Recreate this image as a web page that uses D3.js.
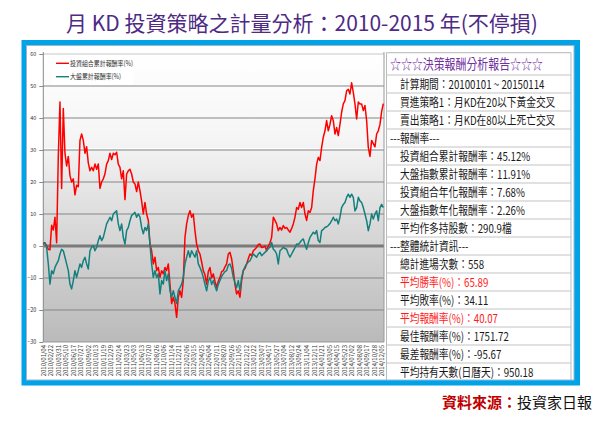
<!DOCTYPE html>
<html><head><meta charset="utf-8">
<script src="https://cdn.jsdelivr.net/npm/d3@7"></script>
<style>
body{margin:0;background:#fff}
svg{display:block}
text{font-family:"Noto Sans CJK TC","Noto Sans",sans-serif}
</style>
</head><body><svg id="c" width="600" height="430"></svg>
<script>
// ---------- data ----------
const chartTitle = "月 KD 投資策略之計量分析：2010-2015 年(不停損)";
const seriesNames = ["投資組合累計報酬率(%)", "大盤累計報酬率(%)"];
const portfolioReturn = [
 0.5,1,0,-1,-1.2,6.5,5,9,1,28,45,18,43,29,25,28,22,20,21,16,19,18.5,33,35,33,29,31,26,23.5,24.6,
 23.5,25.6,24,25.6,18,20,21,22.5,25.6,26.7,29,27,29,28.5,29.3,25.6,24.6,21,23.5,14.5,22.5,23.5,24,22.5,20,19.4,17,20,17.3,14,
 10,13.6,10,8,0.6,-1.5,-5.6,-3.5,-7.7,-6.7,-9.8,-7.7,-8.7,-6.7,-7.7,-5.6,-11.9,-18,-16,-18,-22.3,-16,-14,-16,-10.8,2.7,6.9,9.5,11,9,
 10,4.8,0.6,-1.5,-2.5,-5,-7.7,-9,-12,-8,-6.7,-10,-8.7,-11,-13,-11,-9.8,-8,-7.7,-6.5,-5.6,-2.5,-2,-4,-7.7,-12,-15,-14,-16,-10.8,
 -7.7,-7,-5.6,-4,-2.5,-3,-1.5,-1,-0.4,0.5,0.6,-0.5,-0.4,0,-1.5,0,1,2.7,9,8,6.9,4.8,5.8,5,6.4,5.5,5.8,5,4.3,5.5,
 6.9,9,12,11.5,13.6,12,13.6,10,8,11,10.5,12,17.3,21,25.6,27.7,26.7,30.8,34,36,39.2,36,38,40.7,39.2,35,37,34.5,38,41.8,
 44.4,45.4,48.5,49,47.5,51,48,44.4,39.7,45,44.4,44.4,42.3,43.9,39.2,30.8,28,33,32,31,35,36,38,42,44.5
];
const marketReturn = [
 1,1,-0.4,-5.6,-11.9,-7.7,-8.7,-6.7,-5.6,-4.6,-2.5,-1,-1.5,-3.5,-5.6,-7.7,-11.9,-13.4,-10.8,-7.7,-9.8,-7.7,-5.6,-6.7,-4.6,-3.5,-5.6,-7.2,-1.5,-0.4,
 0.1,-1.5,-0.4,1.7,3.2,1.7,2.7,4.8,6.9,7.9,9,7.9,10,10.5,11,6.9,4.8,6.9,2.7,0.6,4.8,5.8,7.9,9.5,10,10.5,9,10,9,5.8,
 3.8,5.8,4.8,6.9,0.6,-5.6,-9.8,-7.7,-9.8,-8.7,-15,-10.8,-11.9,-7.7,-10.8,-8.7,-14,-16,-14,-16,-18,-14,-13,-11.9,-9.8,-5.6,-3.5,-1.5,-3.5,-1.5,
 -2.5,-3.5,-1.5,-5.6,-6.7,-8,-9.8,-12,-14,-11,-9.8,-12,-10.8,-12.5,-14,-12,-10.8,-9.5,-8.7,-8,-7.7,-6,-5.6,-7,-9.8,-11.5,-13,-10.8,-14,-9.8,
 -7.7,-6.5,-5.6,-5,-4.6,-3.5,-2.5,-3,-3.5,-2.5,-2,-3,-2.5,-2,-1.5,-0.8,-0.4,1.1,-1,-1.5,-2.5,-5.6,-1.5,-1,-0.4,-0.8,-1,-2.5,-3.5,-2.5,
 -1.5,-0.5,0.6,0.5,1.1,1.8,2.2,0.5,-1,1,2.7,3.5,4.3,3.8,4.8,1.7,1.1,4.8,5.2,5.8,6,6.4,7,7.9,9,7.9,8.4,6.9,9,12,
 13,13.6,15.2,16.2,15.2,16.2,15.2,11,12,15.2,14.1,13.6,12,10,7.9,4.8,6.9,10,8.4,10,11,7.9,12,13,12
];
const yTicks = [60,50,40,30,20,10,0,-10,-20,-30];
const dateLabels = [
 "2010/01/04","2010/02/22","2010/03/31","2010/05/10","2010/06/17","2010/07/27","2010/09/02","2010/10/13","2010/11/19","2010/12/29",
 "2011/02/14","2011/03/23","2011/05/03","2011/06/13","2011/07/20","2011/08/26","2011/10/06","2011/11/14","2011/12/21","2012/02/06",
 "2012/03/15","2012/04/25","2012/06/04","2012/07/11","2012/08/20","2012/09/26","2012/11/05","2012/12/12","2013/01/22","2013/03/07",
 "2013/04/17","2013/05/27","2013/07/04","2013/08/12","2013/09/24","2013/11/04","2013/12/11","2014/01/21","2014/03/05","2014/04/15",
 "2014/05/23","2014/07/02","2014/08/08","2014/09/17","2014/10/28","2014/12/05"
];
const reportTitle = "☆☆☆決策報酬分析報告☆☆☆";
const reportRows = [
 "計算期間：20100101 ~ 20150114",
 "買進策略1：月KD在20以下黃金交叉",
 "賣出策略1：月KD在80以上死亡交叉",
 "---報酬率---",
 "投資組合累計報酬率：45.12%",
 "大盤指數累計報酬率：11.91%",
 "投資組合年化報酬率：7.68%",
 "大盤指數年化報酬率：2.26%",
 "平均作多持股數：290.9檔",
 "---整體統計資訊---",
 "總計進場次數：558",
 "平均勝率(%)：65.89",
 "平均敗率(%)：34.11",
 "平均報酬率(%)：40.07",
 "最佳報酬率(%)：1751.72",
 "最差報酬率(%)：-95.67",
 "平均持有天數(日曆天)：950.18"
];
const highlightedRows = [11, 13];
const sourceLabel = "資料來源：";
const sourceName = "投資家日報";

// ---------- drawing ----------
const svg = d3.select("#c");
const defs = svg.append("defs");
const grad = defs.append("linearGradient").attr("id","bg").attr("x1",0).attr("y1",0).attr("x2",0).attr("y2",1);
[["0%","#ffffff"],["30%","#f5f5f5"],["60%","#d9d9d9"],["100%","#bababa"]].forEach(s=>grad.append("stop").attr("offset",s[0]).attr("stop-color",s[1]));

function sText(parent, x, y, str, size, sx, color, anchor, weight){
  const g = parent.append("g").attr("transform",`translate(${x},${y}) scale(${sx},1)`);
  return g.append("text").attr("font-size",size).attr("fill",color||"#222")
    .attr("text-anchor",anchor||"start").attr("font-weight",weight||"normal").text(str);
}

// title
sText(svg, 302, 31, chartTitle, 21, 1, "#4e2a84", "middle");

// frame
svg.append("rect").attr("x",21.5).attr("y",40).attr("width",558.5).attr("height",345.5).attr("fill","#00a2e8");
svg.append("rect").attr("x",26.5).attr("y",45.5).attr("width",547.5).attr("height",334.5).attr("fill","#fff").attr("stroke","#9fb6c8").attr("stroke-width",1);

// scales
const plotL = 43.3, plotR = 384;
const x = d3.scaleLinear().domain([0, portfolioReturn.length-1]).range([plotL, 383.3]);
const y = d3.scaleLinear().domain([-30, 60]).range([342, 54]);
const xLab = d3.scalePoint().domain(dateLabels).range([43.3, 381.7]);

// plot background
svg.append("rect").attr("x",plotL).attr("y",y(60)).attr("width",plotR-plotL).attr("height",y(-30)-y(60)).attr("fill","url(#bg)");

// gridlines
const grid = svg.append("g");
grid.selectAll("line").data(yTicks.filter(t=>t!==0 && t!==-30)).join("line")
  .attr("x1",plotL).attr("x2",plotR).attr("y1",d=>y(d)).attr("y2",d=>y(d))
  .attr("stroke",d=>d===60?"#c8c8c8":"#858585").attr("stroke-width",1.2);
grid.append("line").attr("x1",plotL).attr("x2",plotR).attr("y1",y(0)).attr("y2",y(0)).attr("stroke","#7a7a7a").attr("stroke-width",3);
grid.append("line").attr("x1",plotL).attr("x2",plotR).attr("y1",y(30)-1.5).attr("y2",y(30)-1.5).attr("stroke","#ffffff").attr("stroke-width",1);
// right border
svg.append("line").attr("x1",plotR).attr("x2",plotR).attr("y1",52).attr("y2",y(-30)).attr("stroke","#999");

// y axis
const yAxis = svg.append("g").attr("transform",`translate(${plotL},0)`)
  .call(d3.axisLeft(y).tickValues(yTicks).tickSize(4).tickPadding(3));
yAxis.select(".domain").attr("stroke","#888").attr("d",`M0,52V${y(-30)}`);
yAxis.selectAll(".tick line").attr("stroke","#888");
yAxis.selectAll("text").attr("font-size",5.5).attr("fill","#333").attr("font-family","Arial, Liberation Sans, sans-serif");

// x axis
const xAxis = svg.append("g").attr("transform",`translate(0,${y(-30)})`)
  .call(d3.axisBottom(xLab).tickSize(0).tickPadding(0));
xAxis.select(".domain").attr("stroke","#999").attr("d",`M${plotL},0H${plotR}`);
xAxis.selectAll("text").attr("font-size",6).attr("fill","#333")
  .attr("font-family","Arial, Liberation Sans, sans-serif")
  .attr("text-anchor","end").attr("dy",0)
  .attr("transform","translate(2,3) rotate(-90)");

// lines
const line = d3.line().x((d,i)=>x(i)).y(d=>y(d));
svg.append("path").datum(portfolioReturn).attr("d",line).attr("fill","none").attr("stroke","#ff0000").attr("stroke-width",1.5).attr("stroke-linejoin","round");
svg.append("path").datum(marketReturn).attr("d",line).attr("fill","none").attr("stroke","#14807e").attr("stroke-width",1.5).attr("stroke-linejoin","round");

// legend
const lg = svg.append("g");
lg.append("rect").attr("x",51.7).attr("y",56).attr("width",81.6).attr("height",29).attr("fill","#fff");
const legColors = ["#ff0000","#14807e"];
seriesNames.forEach((n,i)=>{
  const ly = 63.3 + i*13.4;
  lg.append("line").attr("x1",56).attr("x2",69).attr("y1",ly).attr("y2",ly).attr("stroke",legColors[i]).attr("stroke-width",1.4);
  sText(lg, 70, ly+2.4, n, 7, 0.85, "#333");
});

// report panel
const panel = svg.append("g");
const pL = 386.5, pR = 571;
panel.append("line").attr("x1",pL).attr("x2",pL).attr("y1",52.5).attr("y2",380).attr("stroke","#bbb");
panel.append("line").attr("x1",pR).attr("x2",pR).attr("y1",52.5).attr("y2",380).attr("stroke","#bbb");
const rowTop = 75, rowH = 18;
const sepYs = [52.7].concat(reportRows.map((r,i)=>rowTop + i*rowH));
panel.selectAll("line.sep").data(sepYs).join("line").attr("class","sep")
  .attr("x1",pL).attr("x2",pR).attr("y1",d=>d).attr("y2",d=>d).attr("stroke","#c4c4c4").attr("stroke-width",1.2);
sText(panel, 390, 69, reportTitle, 14, 0.78, "#7030a0");
reportRows.forEach((r,i)=>{
  const isSec = r.startsWith("---");
  const col = highlightedRows.includes(i) ? "#ff1a1a" : "#1a1a1a";
  sText(panel, isSec?390:400, rowTop + i*rowH + 13.5, r, 12, 0.81, col);
});

// source
const src = svg.append("text").attr("x",592).attr("y",408).attr("text-anchor","end").attr("font-size",15);
src.append("tspan").attr("fill","#c00000").attr("font-weight","bold").text(sourceLabel);
src.append("tspan").attr("fill","#111").text(sourceName);
</script>
</body></html>
